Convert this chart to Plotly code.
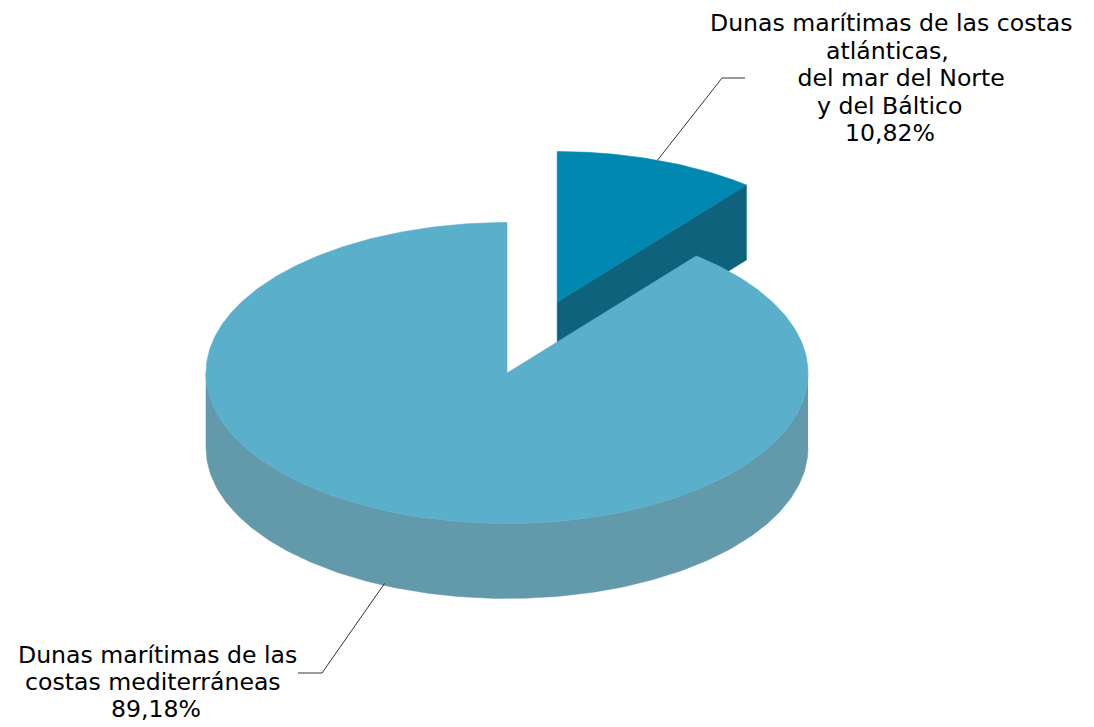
import numpy as np
import plotly.graph_objects as go

# ---- data ----
label_lines = [
    ["Dunas marítimas de las costas", "atlánticas,", " del mar del Norte", "y del Báltico", "10,82%"],
    ["Dunas marítimas de las", "costas mediterráneas", "89,18%"],
]
values = [10.82, 89.18]
top_colors = ["#0088B0", "#5AAFCB"]
side_colors = ["#0E627B", "#6299AB"]
pulls = [0.5, 0.0]

# ---- geometry (page-pixel coordinates, y down) ----
W, H = 1094, 727
OFF = 8  # default page body margin
cx, cy = 507, 373
rx, ry = 301, 150.5
depth = 75

fracs = np.array(values) / sum(values)
starts = np.concatenate([[0], np.cumsum(fracs)[:-1]]) * 2 * np.pi
ends = np.cumsum(fracs) * 2 * np.pi


def pt(theta, ox, oy, dz=0.0, r=1.0):
    return ox + rx * r * np.sin(theta), oy - ry * r * np.cos(theta) + dz


fig = go.Figure()

centers = []
for i in range(len(values)):
    mid = (starts[i] + ends[i]) / 2
    ox = cx + rx * pulls[i] * np.sin(mid)
    oy = cy - ry * pulls[i] * np.cos(mid)
    centers.append((ox, oy))

for i in [0, 1]:
    ox, oy = centers[i]
    a0, a1 = starts[i], ends[i]
    lo, hi = max(a0, np.pi / 2), min(a1, 3 * np.pi / 2)
    if hi > lo:
        th = np.linspace(lo, hi, 200)
        xt, yt = pt(th, ox, oy)
        xb, yb = pt(th[::-1], ox, oy, depth)
        fig.add_trace(go.Scatter(x=np.concatenate([xt, xb]), y=np.concatenate([yt, yb]),
                                 fill="toself", fillcolor=side_colors[i], mode="lines",
                                 line=dict(width=0.5, color=side_colors[i]),
                                 hoverinfo="skip", showlegend=False))
    if a1 < np.pi:
        x1, y1 = pt(a1, ox, oy)
        xs = [ox, x1, x1, ox, ox]
        ys = [oy, y1, y1 + depth, oy + depth, oy]
        fig.add_trace(go.Scatter(x=xs, y=ys, fill="toself", fillcolor=side_colors[i], mode="lines",
                                 line=dict(width=0.5, color=side_colors[i]),
                                 hoverinfo="skip", showlegend=False))
    th = np.linspace(a0, a1, 400)
    xt, yt = pt(th, ox, oy)
    fig.add_trace(go.Scatter(x=np.concatenate([[ox], xt, [ox]]), y=np.concatenate([[oy], yt, [oy]]),
                             fill="toself", fillcolor=top_colors[i], mode="lines",
                             line=dict(width=0.6, color=top_colors[i]),
                             hoverinfo="skip", showlegend=False))

# ---- leader lines & labels ----
FS = 23.6
font = dict(family="DejaVu Sans", size=FS, color="#000000")

ox, oy = centers[0]
mid0 = (starts[0] + ends[0]) / 2
sx, sy = pt(mid0, ox, oy)
fig.add_trace(go.Scatter(x=[sx, 722, 745], y=[sy, 78, 78], mode="lines",
                         line=dict(color="#000000", width=0.8), hoverinfo="skip", showlegend=False))

ox, oy = centers[1]
lx, ly = pt(np.deg2rad(204), ox, oy, depth)
fig.add_trace(go.Scatter(x=[lx, 322, 298], y=[ly - 2, 673, 673], mode="lines",
                         line=dict(color="#000000", width=0.8), hoverinfo="skip", showlegend=False))

# label line placement: (center x, baseline y)
top_pos = [(891, 31.5), (887, 59), (897, 86.5), (889, 114), (890, 141)]
bot_pos = [(157, 663), (153, 690.5), (156, 717.5)]
for lines, pos in [(label_lines[0], top_pos), (label_lines[1], bot_pos)]:
    for txt, (xx, yy) in zip(lines, pos):
        fig.add_annotation(x=xx, y=yy - 0.36 * FS, xref="x", yref="y", xanchor="center",
                           yanchor="middle", text=txt, showarrow=False, font=font)

fig.update_layout(
    width=W - OFF, height=H - OFF,
    margin=dict(l=0, r=0, t=0, b=0),
    paper_bgcolor="white", plot_bgcolor="white",
    xaxis=dict(range=[OFF, W], visible=False, fixedrange=True),
    yaxis=dict(range=[H, OFF], visible=False, fixedrange=True),
    showlegend=False,
)

fig.write_html("out.html")
